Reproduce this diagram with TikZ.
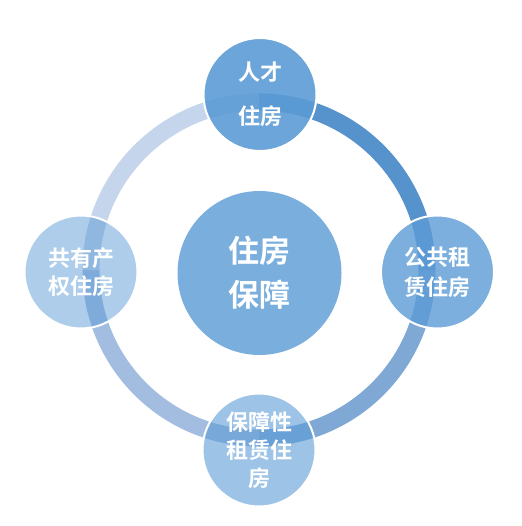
\documentclass[tikz,border=0pt]{standalone}
\usepackage{fontspec}
\newfontfamily\cjk{Noto Sans CJK SC Bold}
\definecolor{nodeblue}{RGB}{91,155,213}
\definecolor{ringA}{RGB}{86,146,203}
\definecolor{ringB}{RGB}{127,168,213}
\definecolor{ringC}{RGB}{162,189,224}
\definecolor{ringD}{RGB}{197,213,236}
\tikzset{
  ringseg/.style={line width=17pt},
  bubble/.style={circle, draw=white, line width=2pt, fill=nodeblue, draw opacity=1, text opacity=1,
    inner sep=0pt, minimum size=113pt, text=white, align=center},
  smalltxt/.style={font=\cjk\fontsize{22}{#1}\selectfont},
}
\begin{document}
\begin{tikzpicture}[x=1pt,y=-1pt]
\useasboundingbox (0,0) rectangle (521,526);
\coordinate (o) at (259,270);
\draw[ringseg, ringA] ([shift={(0,-168)}]o) arc[start angle=-90, end angle=0, radius=168];
\draw[ringseg, ringB] ([shift={(168,0)}]o) arc[start angle=0, end angle=90, radius=168];
\draw[ringseg, ringC] ([shift={(0,168)}]o) arc[start angle=90, end angle=180, radius=168];
\draw[ringseg, ringD] ([shift={(-168,0)}]o) arc[start angle=180, end angle=270, radius=168];
\node[bubble, fill opacity=0.81, draw=none, minimum size=164pt, font=\cjk\fontsize{31}{44}\selectfont] (center) at (259.5,273) {住房\\保障};
\node[bubble, fill opacity=0.9, smalltxt=44] (top) at (260,94.5) {人才\\住房};
\node[bubble, fill opacity=0.8, smalltxt=30] (right) at (437.5,272) {公共租\\赁住房};
\node[bubble, fill opacity=0.6, smalltxt=28] (bottom) at (259,450) {保障性\\租赁住\\房};
\node[bubble, fill opacity=0.5, smalltxt=28] (left) at (81,272) {共有产\\权住房};
\end{tikzpicture}
\end{document}
